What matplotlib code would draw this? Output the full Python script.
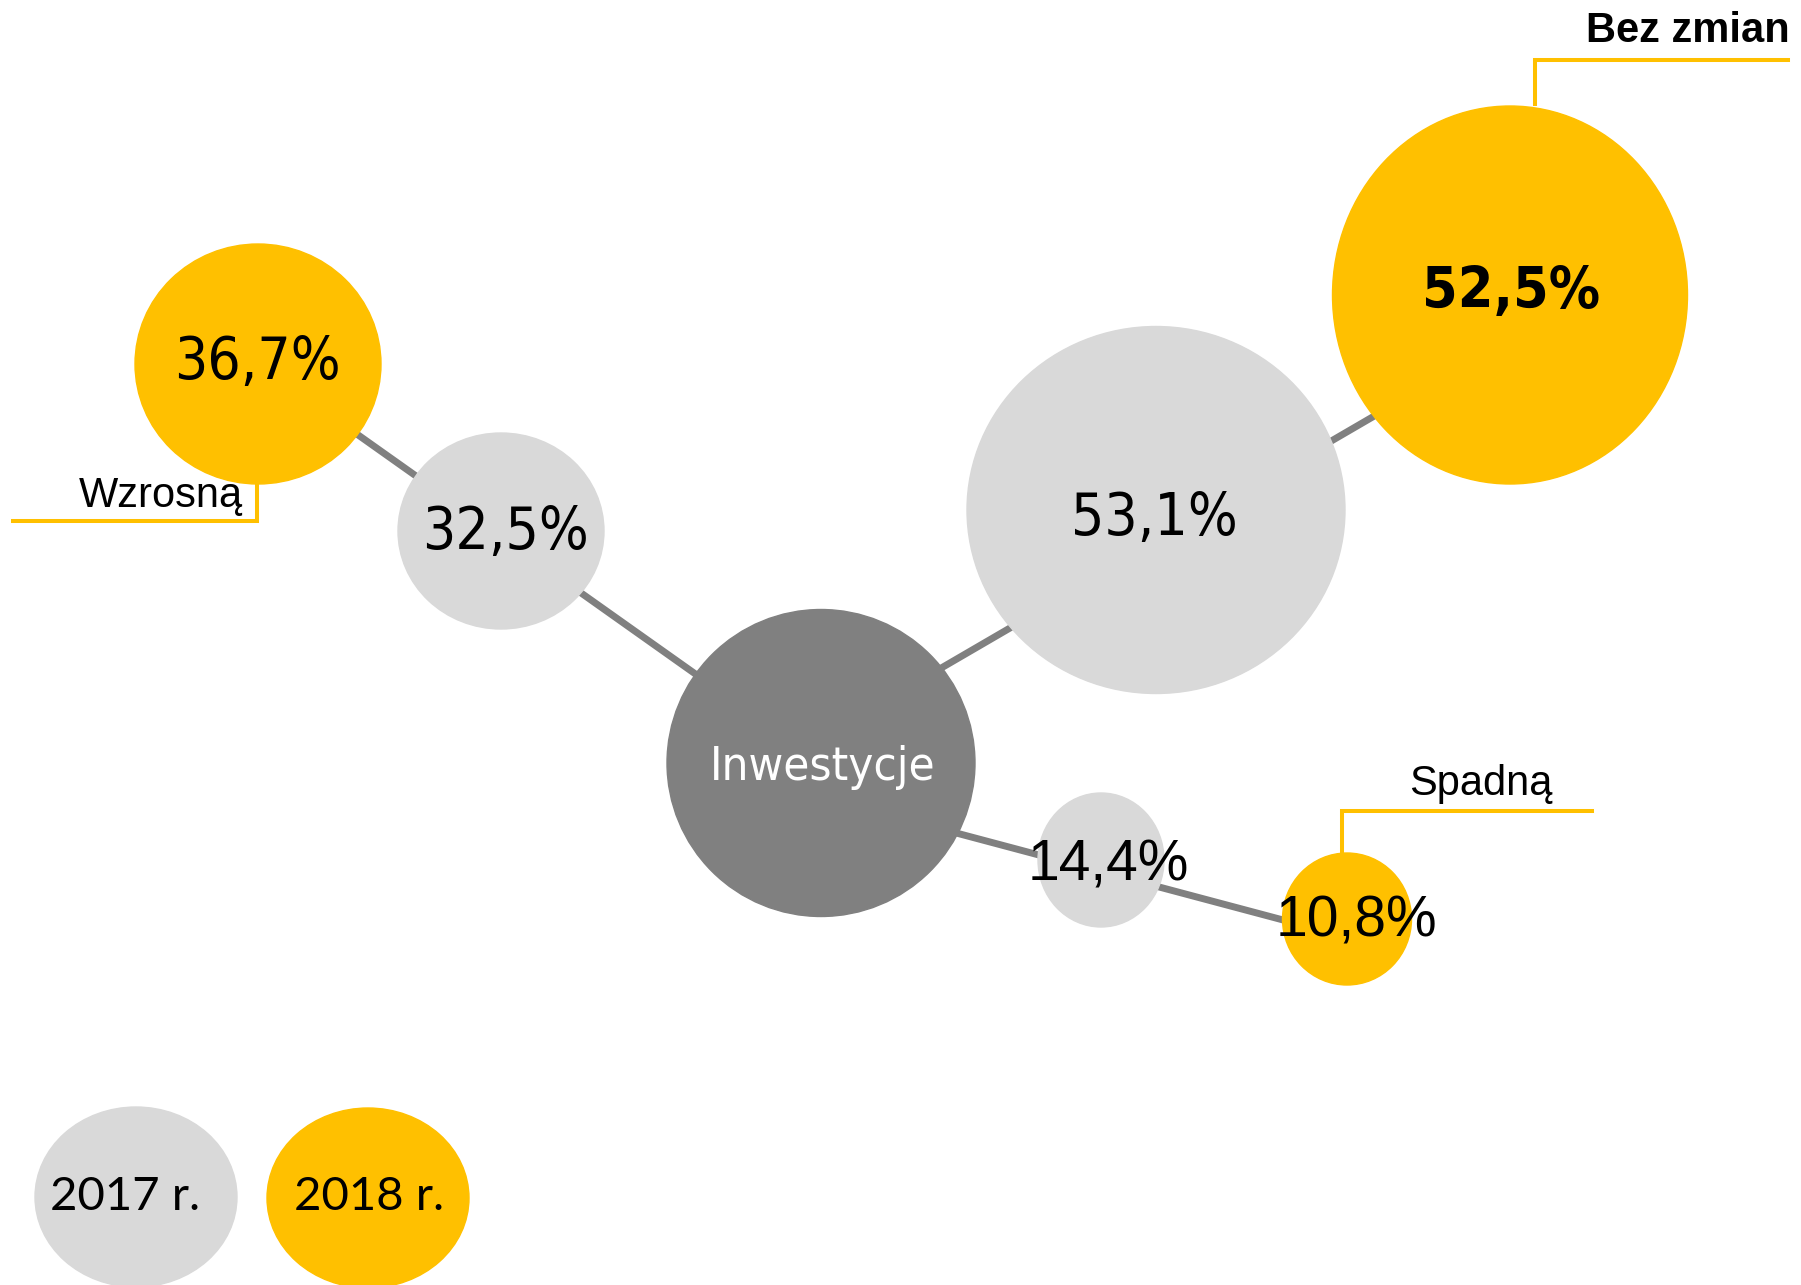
import matplotlib.pyplot as plt
from matplotlib.patches import Ellipse

# data
categories = ['Wzrosną', 'Bez zmian', 'Spadną']
values_2017 = [32.5, 53.1, 14.4]
values_2018 = [36.7, 52.5, 10.8]
center_label = 'Inwestycje'
year_labels = ['2017 r.', '2018 r.']

GRAY = '#D9D9D9'
YELLOW = '#FFC000'
DARK = '#808080'

# layout in pixel coordinates of the 1801x1285 canvas (y down)
center_node = dict(xy=(821, 763), w=308, h=307)
nodes_2017 = [
    dict(xy=(501, 531), w=206, h=196, txt=(505, 532)),
    dict(xy=(1156, 510), w=378, h=367, txt=(1154, 519)),
    dict(xy=(1101, 860), w=126, h=134, txt=(1108, 865)),
]
nodes_2018 = [
    dict(xy=(258, 364), w=246, h=240, txt=(257, 363)),
    dict(xy=(1510, 295), w=355, h=378, txt=(1511, 292)),
    dict(xy=(1347, 919), w=129, h=132, txt=(1356, 922)),
]
connectors = [
    [(821, 763), (258, 364)],
    [(821, 738), (1510, 337)],
    [(821, 797), (1347, 937)],
]
callouts = [
    dict(path=[(13, 521), (257, 521), (257, 483)], txt=(243, 507), ha='right', weight='normal'),
    dict(path=[(1535, 104), (1535, 60), (1788, 60)], txt=(1790, 42), ha='right', weight='bold'),
    dict(path=[(1342, 853), (1342, 811), (1592, 811)], txt=(1481, 795), ha='center', weight='normal'),
]
legend_nodes = [dict(xy=(136, 1197), w=202, h=180, txt=(125, 1197)),
                dict(xy=(368, 1198), w=202, h=180, txt=(369, 1197))]

num_font = dict(family=['DejaVu Sans Condensed', 'DejaVu Sans'], stretch='condensed')


def fmt(v):
    return f'{v:.1f}'.replace('.', ',') + '%'


fig = plt.figure(figsize=(18.01, 12.85), dpi=100)
ax = fig.add_axes([0, 0, 1, 1])
ax.set_xlim(0, 1801)
ax.set_ylim(1285, 0)
ax.axis('off')

for (x0, y0), (x1, y1) in connectors:
    ax.plot([x0, x1], [y0, y1], color=DARK, lw=5, solid_capstyle='butt', zorder=1)

ax.add_patch(Ellipse(center_node['xy'], center_node['w'], center_node['h'], color=DARK, zorder=2))
ax.text(823, 768, center_label, color='white', fontsize=34, ha='center', va='center', **num_font)

for i, (v, node) in enumerate(zip(values_2017, nodes_2017)):
    ax.add_patch(Ellipse(node['xy'], node['w'], node['h'], color=GRAY, zorder=2))
    if i == 2:
        ax.text(*node['txt'], fmt(v), fontsize=41, ha='center', va='center', zorder=4,
                family='Liberation Sans')
    else:
        ax.text(*node['txt'], fmt(v), fontsize=42, ha='center', va='center', zorder=4, **num_font)

for i, (v, node) in enumerate(zip(values_2018, nodes_2018)):
    ax.add_patch(Ellipse(node['xy'], node['w'], node['h'], color=YELLOW, zorder=2))
    if i == 2:
        ax.text(*node['txt'], fmt(v), fontsize=41, ha='center', va='center', zorder=4,
                family='Liberation Sans')
    else:
        size = 41 if i == 1 else 42
        weight = 'bold' if i == 1 else 'normal'
        ax.text(*node['txt'], fmt(v), fontsize=size, ha='center', va='center',
                fontweight=weight, zorder=4, **num_font)

for label, c in zip(categories, callouts):
    xs, ys = zip(*c['path'])
    ax.plot(xs, ys, color=YELLOW, lw=2.9, solid_joinstyle='miter', zorder=3)
    ax.text(*c['txt'], label, fontsize=30, ha=c['ha'], va='baseline',
            fontweight=c['weight'], family='Liberation Sans')

for label, node, col in zip(year_labels, legend_nodes, [GRAY, YELLOW]):
    ax.add_patch(Ellipse(node['xy'], node['w'], node['h'], color=col, zorder=2))
    ax.text(*node['txt'], label, fontsize=34, family='Lato',
            ha='center', va='center', zorder=4)

fig.savefig('out.png', dpi=100)
